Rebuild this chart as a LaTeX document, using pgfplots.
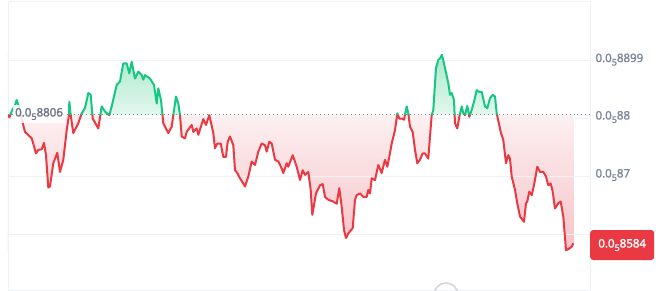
\documentclass[border=0pt]{standalone}
\usepackage{fontspec}
\setmainfont{Noto Sans}
\newfontfamily\medfont{Noto Sans}[FakeBold=2]
\usepackage{pgfplots}
\usepackage{pgfplotstable}
\pgfplotsset{compat=1.18}
\definecolor{cmcgreen}{HTML}{16C784}
\definecolor{cmcred}{HTML}{EA3943}
\definecolor{cmcgray}{HTML}{808A9D}
\definecolor{labgray}{HTML}{6F788B}
\definecolor{gridc}{HTML}{EFF2F5}
\definecolor{gtop}{HTML}{A9E9CB}
\definecolor{gbot}{HTML}{E3F7EE}
\definecolor{rtop}{HTML}{FDF0F1}
\definecolor{rbot}{HTML}{F6C2C7}
\newcommand\sub[1]{\raisebox{-3.4pt}{\fontsize{9}{10}\selectfont #1}}
\pgfplotsset{
  base/.style={scale only axis, width=582pt, xmin=8, xmax=590, hide axis, anchor=south west},
  upper/.style={base, at={(8pt,175.48pt)}, height=113.02pt, ymin=880.6, ymax=900.09},
  lower/.style={base, at={(8pt,0pt)}, height=175.48pt, ymin=850.34, ymax=880.6},
}
\pgfplotstableread{
x y
8 880.5
9.5 880.1
12 881.3
15 882.2
16.7 883.1
18.3 882.2
21 880.3
25 877.6
31.7 876.5
36 873.9
38.3 874.5
41.7 874.6
44 875.7
46 873.6
48.3 868.0
50 868.2
53.3 872.2
57.3 874.0
60 870.7
63.3 872.8
66.7 877.9
69 880.5
69.3 882.8
70.7 880.5
73.3 877.4
78.3 879.1
81.7 880.8
85 881.7
88.3 884.3
90.7 884.0
92.7 879.9
98.3 878.2
101.7 882.0
105 881.1
109.3 880.5
111.7 882.0
116.7 885.7
120 886.3
123.3 889.4
126.7 889.4
129.3 887.7
131.7 889.7
135 886.8
138.3 888.0
141.7 887.4
143.3 886.6
145 887.4
150 886.8
154 885.7
156.7 882.5
158.3 885.1
161 883.1
163.3 879.1
168.3 877.4
171.7 878.5
173.3 880.5
176 883.7
178.3 882.5
180 880.5
181.7 876.8
185 876.5
186.7 877.6
191.7 878.8
193.3 877.6
196.7 878.2
198.3 877.1
203.3 879.8
206 878.8
209.3 880.5
213.3 877.4
215 874.8
217.3 875.6
220.7 875.6
223.3 873.3
226 873.3
227.7 875.9
230 876.8
233.3 875.3
235 871.0
237.3 870.5
240 869.6
245 868.2
248.3 869.9
251.7 872.5
255 871.9
258.3 874.2
261.7 875.6
265 875.3
266.7 874.2
269.3 875.9
271.7 875.6
275 872.8
278.3 872.5
281.7 871.3
283.3 870.5
286.7 872.2
288.3 871.6
292.7 873.6
296.7 871.6
300 869.3
302.7 871.0
305 870.2
308.3 870.7
310.7 867.6
312.3 863.3
316 867.0
320 868.4
322.7 868.6
325 866.4
328.3 865.9
333.3 865.6
336.7 865.2
339.3 867.9
341.7 864.7
344 860.7
346 859.3
348.3 860.1
352.7 861.0
355 865.9
356.7 866.7
360 867.0
363.3 866.4
366.7 866.4
368.3 867.6
370 867.0
371.7 869.6
375 869.3
378.3 871.9
381.7 870.5
385 872.8
387.3 871.6
389.3 873.3
391.7 875.6
395 877.9
397.3 880.8
399.3 879.9
401.7 879.9
404 879.7
406.7 882.0
408.3 880.8
410 878.5
412.7 877.6
415 874.5
417.3 872.2
420 872.8
422.7 873.9
425 873.9
428.3 873.0
430 876.8
431.7 880.5
433.3 881.4
436 888.6
438.3 890.0
440 890.3
442 890.9
445 888.6
448.3 886.0
450 884.0
451.7 884.3
454 883.1
455 879.1
457.3 878.2
459.3 880.2
461.7 882.0
463.3 880.8
465 880.5
467.3 882.1
469.3 880.2
471.7 881.4
474 882.8
476.7 884.8
479.3 884.5
481.7 884.5
485 882.0
487.3 881.7
490 883.4
492.7 884.0
495 883.7
496.7 880.8
500.7 877.6
503.3 876.2
506 872.2
508.3 873.6
510 873.0
511.7 869.9
515 867.6
517.3 865.3
520 863.0
524 862.1
526 865.3
527.3 865.6
529.3 867.3
531.7 866.7
534 868.4
537.3 871.6
540 870.7
543.3 870.7
546 869.9
548.3 868.4
550.7 868.7
552.7 867.3
555 864.4
558.3 865.3
560.7 865.6
563.3 863.0
566 857.2
569.3 857.5
571.7 857.8
573.3 858.4
}\pricedata
\begin{document}
\begin{tikzpicture}
% lower fill: gradient rectangle, then white below the curve
\begin{axis}[lower]
\fill[top color=rtop, bottom color=rbot] (axis cs:8,857) rectangle (axis cs:573.3,880.6);
\addplot[fill=white, draw=none] table {\pricedata} -- (axis cs:600,858.4) -- (axis cs:600,800) -- (axis cs:0,800) -- (axis cs:0,880.5) -- cycle;
\end{axis}
% upper fill: gradient rectangle, then white above the curve
\begin{axis}[upper]
\fill[top color=gtop, bottom color=gbot] (axis cs:8,880.6) rectangle (axis cs:573.3,891.2);
\addplot[fill=white, draw=none] table {\pricedata} -- (axis cs:600,858.4) -- (axis cs:600,902) -- (axis cs:0,902) -- (axis cs:0,880.5) -- cycle;
\end{axis}
% main axis: grid, frame, labels
\begin{axis}[
  at={(8pt,0pt)}, anchor=south west,
  scale only axis, width=582pt, height=288.5pt,
  xmin=8, xmax=590, ymin=850.34, ymax=900.09,
  axis line style={draw=gridc, line width=0.8pt},
  xtick=\empty,
  ytick={850,860,870,880,889.9},
  yticklabels={0.0\sub{5}85,{},0.0\sub{5}87,0.0\sub{5}88,0.0\sub{5}8899},
  yticklabel pos=right,
  major tick length=0pt,
  ymajorgrids, grid style={draw=gridc, line width=0.8pt},
  yticklabel style={font=\medfont\fontsize{11.5}{13}\selectfont, text=cmcgray, anchor=west, xshift=2pt, yshift=1pt},
]
\addplot[cmcgray, line width=0.9pt, dash pattern=on 0.9pt off 3pt] coordinates {(8,880.6) (590,880.6)};
\end{axis}
% lines
\begin{axis}[lower]
\addplot[cmcred, line width=2pt, line join=round] table {\pricedata};
\end{axis}
\begin{axis}[upper]
\addplot[cmcgreen, line width=2pt, line join=round] table {\pricedata};
\end{axis}
% baseline label
\node[fill=white, fill opacity=0.85, text opacity=1, text=labgray, anchor=west, inner xsep=2pt, inner ysep=3pt,
  font=\medfont\fontsize{11.5}{13}\selectfont] at (13pt,176pt) {0.0\sub{5}8806};
% current price label
\node[fill=cmcred, rounded corners=3pt, text=white, anchor=west, minimum width=64pt, minimum height=30pt,
  inner xsep=5pt, align=left, font=\medfont\fontsize{11.5}{13}\selectfont] at (590pt,45pt) {0.0\sub{5}8584};
% bottom icon
\draw[draw=cmcgray!35, line width=1.6pt] (446pt,-5pt) circle (12pt);
\pgfresetboundingbox
\useasboundingbox (0pt,0pt) rectangle (662pt,290pt);
\end{tikzpicture}
\end{document}
